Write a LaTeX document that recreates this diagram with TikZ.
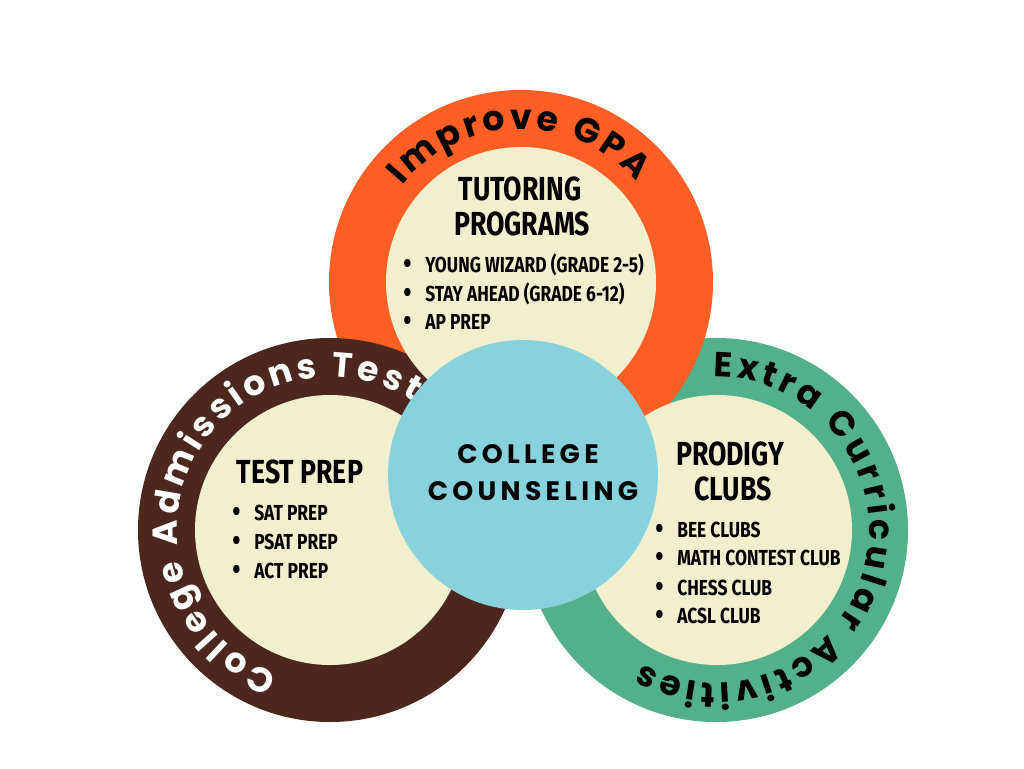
\documentclass[tikz,border=0pt]{standalone}
\usepackage{fontspec}
\usetikzlibrary{decorations.text}
\definecolor{gpaorange}{RGB}{255,94,36}
\definecolor{testbrown}{RGB}{75,39,29}
\definecolor{clubgreen}{RGB}{82,176,138}
\definecolor{creamfill}{RGB}{242,239,206}
\definecolor{counselblue}{RGB}{136,210,222}
\newfontfamily\ringfont{Poppins}
\newfontfamily\hubfont[LetterSpace=16]{Poppins}
\newfontfamily\condfont[FakeStretch=0.8]{Fira Sans}
\newcommand{\bul}{\makebox[16.5pt][l]{\raisebox{-1.2pt}{\fontsize{22}{22}\selectfont\textbullet}}}

\begin{document}
\begin{tikzpicture}[x=0.75pt,y=0.75pt]
    \tikzstyle{every node}+=[inner sep=0pt]
    \tikzstyle{headtext}=[anchor=base, font=\condfont\bfseries\fontsize{25}{30}\selectfont]
    \tikzstyle{itemtext}=[anchor=base west, font=\condfont\bfseries\fontsize{16.3}{20}\selectfont]
    \tikzstyle{hubtext}=[anchor=base, font=\hubfont\bfseries\fontsize{20}{24}\selectfont]
    \useasboundingbox (0,0) rectangle (1024,-768);
    \fill [white] (0,0) rectangle (1024,-768);
    % outer rings
    \fill [clubgreen] (716,-530) circle (192);
    \fill [gpaorange] (521,-282) circle (192);
    \fill [testbrown] (330,-530) circle (192);
    \fill [creamfill] (521,-282) circle (135);
    \fill [creamfill] (330,-530) circle (135);
    \fill [creamfill] (717,-530) circle (135);
    % ring labels
    \path [decorate, decoration={text along path, text align={fit to path},
        text={|\ringfont\bfseries\fontsize{26}{30}\selectfont|Improve GPA}}]
        (521,-282) ++(141:153) arc (141:41:153);
    \path [decorate, decoration={text along path, text align={fit to path},
        text={|\ringfont\bfseries\fontsize{26}{30}\selectfont\color{white}|College Admissions Test}}]
        (330,-530) ++(250:153) arc (250:57:153);
    \path [decorate, decoration={text along path, text align={fit to path},
        text={|\ringfont\bfseries\fontsize{26}{30}\selectfont|Extra Curricular Activities}}]
        (716,-530) ++(91:153) arc (91:-119:153);
    % centre
    \fill [counselblue] (523,-475) circle (135);
    \draw (528,-463) node (hub1) [hubtext] {COLLEGE};
    \draw (533,-500) node (hub2) [hubtext] {COUNSELING};
    % tutoring
    \draw (520,-200) node (tutor1) [headtext] {TUTORING};
    \draw (522,-235) node (tutor2) [headtext] {PROGRAMS};
    \draw (403,-272) node (tutor3) [itemtext] {\bul YOUNG WIZARD (GRADE 2-5)};
    \draw (403,-301) node (tutor4) [itemtext] {\bul STAY AHEAD (GRADE 6-12)};
    \draw (403,-329) node (tutor5) [itemtext] {\bul AP PREP};
    % test prep
    \draw (300,-483) node (prep1) [headtext] {TEST PREP};
    \draw (232,-520) node (prep2) [itemtext] {\bul SAT PREP};
    \draw (232,-549) node (prep3) [itemtext] {\bul PSAT PREP};
    \draw (232,-578) node (prep4) [itemtext] {\bul ACT PREP};
    % clubs
    \draw (730,-465) node (club1) [headtext] {PRODIGY};
    \draw (733,-500) node (club2) [headtext] {CLUBS};
    \draw (655,-537) node (club3) [itemtext] {\bul BEE CLUBS};
    \draw (655,-565) node (club4) [itemtext] {\bul MATH CONTEST CLUB};
    \draw (655,-595) node (club5) [itemtext] {\bul CHESS CLUB};
    \draw (655,-623) node (club6) [itemtext] {\bul ACSL CLUB};
\end{tikzpicture}
\end{document}
